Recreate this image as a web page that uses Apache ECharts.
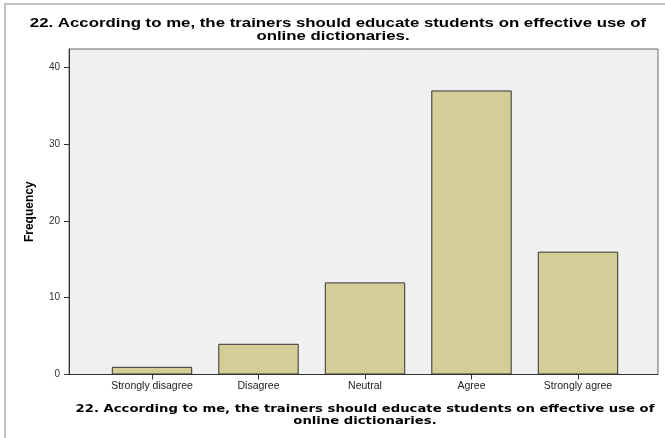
<!DOCTYPE html>
<html>
<head>
<meta charset="utf-8">
<script src="https://cdn.jsdelivr.net/npm/echarts@6/dist/echarts.min.js"></script>
<style>
  html, body { margin: 0; padding: 0; background: #fff; }
  #main { width: 665px; height: 438px; }
</style>
</head>
<body>
<div id="main"></div>
<script>
const categories = ["Strongly disagree", "Disagree", "Neutral", "Agree", "Strongly agree"];
const frequency = [1, 4, 12, 37, 16];
const titleLines = [
  "22. According to me, the trainers should educate students on effective use of",
  "online dictionaries."
];

const chart = echarts.init(document.getElementById("main"));

// the source picture is stretched sideways a bit, so the titles get scaleX
function titleText(text, x, y, size, family, sx) {
  return {
    type: "text",
    x: x,
    y: y,
    scaleX: sx,
    style: {
      text: text,
      fontFamily: family,
      fontWeight: "bold",
      fontSize: size,
      fill: "#000",
      align: "center",
      verticalAlign: "middle"
    }
  };
}

const option = {
  animation: false,
  graphic: [
    {
      type: "rect",
      shape: { x: 5, y: 4, width: 700, height: 500 },
      style: { fill: "none", stroke: "#c4c4c4", lineWidth: 2 },
      z: -10
    },
    titleText(titleLines[0], 338, 23.5, 13.5, "Liberation Sans", 1.245),
    titleText(titleLines[1], 333, 36, 13.5, "Liberation Sans", 1.245),
    titleText(titleLines[0], 365, 409.5, 11, "DejaVu Sans", 1.2),
    titleText(titleLines[1], 365, 421.5, 11, "DejaVu Sans", 1.2)
  ],
  grid: [
    // bars
    { left: 98.75, right: 33.75, top: 49, bottom: 63.5 },
    // plot frame
    {
      left: 69, right: 7, top: 49, bottom: 63.5,
      show: true,
      backgroundColor: "#f0f0f0",
      borderColor: "#666",
      borderWidth: 1
    }
  ],
  xAxis: [
    {
      type: "category",
      gridIndex: 0,
      data: categories,
      axisLine: { show: false },
      axisTick: {
        show: true,
        alignWithLabel: true,
        length: 5,
        lineStyle: { color: "#333" }
      },
      axisLabel: {
        interval: 0,
        fontFamily: "Liberation Sans",
        fontSize: 10.5,
        color: "#222",
        margin: 6
      }
    },
    {
      type: "value",
      gridIndex: 1,
      min: 0,
      max: 1,
      axisLine: { show: true, lineStyle: { color: "#333" } },
      axisTick: { show: false },
      axisLabel: { show: false },
      splitLine: { show: false }
    }
  ],
  yAxis: [
    {
      type: "value",
      gridIndex: 0,
      min: 0,
      max: 42.4,
      show: false
    },
    {
      type: "value",
      gridIndex: 1,
      min: 0,
      max: 42.4,
      interval: 10,
      name: "Frequency",
      nameLocation: "middle",
      nameRotate: 90,
      nameGap: 33,
      nameTextStyle: {
        fontFamily: "Liberation Sans",
        fontWeight: "bold",
        fontSize: 12,
        color: "#000"
      },
      axisLine: { show: true, lineStyle: { color: "#333" } },
      axisTick: { show: true, length: 5, lineStyle: { color: "#333" } },
      axisLabel: {
        fontFamily: "Liberation Sans",
        fontSize: 10,
        color: "#333",
        margin: 9,
        showMaxLabel: false
      },
      splitLine: { show: false }
    }
  ],
  series: [
    {
      type: "bar",
      xAxisIndex: 0,
      yAxisIndex: 0,
      data: frequency,
      barWidth: "75.5%",
      itemStyle: {
        color: "#d3ce98",
        borderColor: "#333",
        borderWidth: 1
      }
    }
  ]
};

chart.setOption(option);
</script>
</body>
</html>
